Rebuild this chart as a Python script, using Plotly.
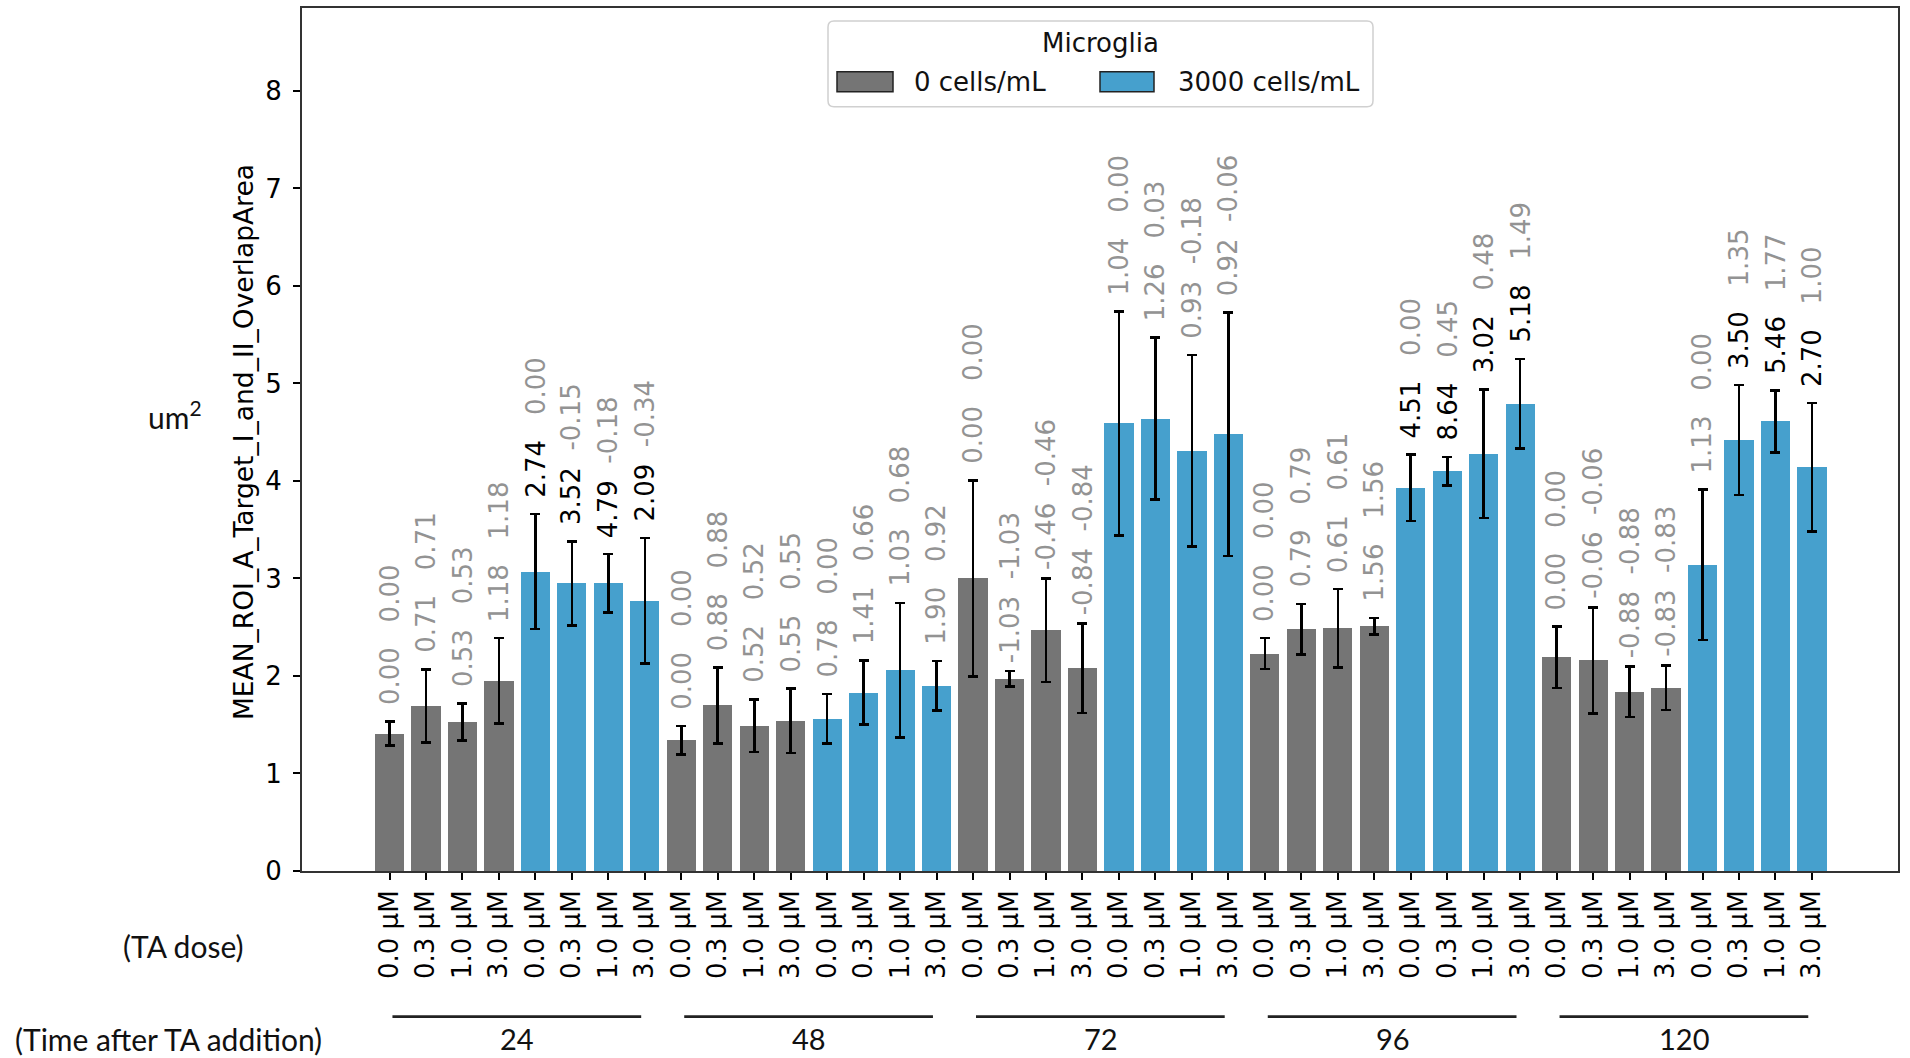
import plotly.graph_objects as go

# ---- data -------------------------------------------------------------
time_points = ["24", "48", "72", "96", "120"]
doses = ["0.0 µM", "0.3 µM", "1.0 µM", "3.0 µM"]
microglia = ["0 cells/mL", "3000 cells/mL"]

# mean overlap area (um^2), one row per time point, one column per dose
mean_0 = [
    [1.41, 1.69, 1.53, 1.95],
    [1.34, 1.70, 1.49, 1.54],
    [3.00, 1.97, 2.47, 2.08],
    [2.23, 2.48, 2.49, 2.51],
    [2.19, 2.16, 1.84, 1.88],
]
err_0 = [
    [0.125, 0.375, 0.19, 0.44],
    [0.145, 0.39, 0.27, 0.33],
    [1.005, 0.08, 0.53, 0.46],
    [0.16, 0.26, 0.40, 0.085],
    [0.315, 0.545, 0.26, 0.23],
]
mean_3000 = [
    [3.07, 2.95, 2.95, 2.77],
    [1.56, 1.83, 2.06, 1.90],
    [4.59, 4.64, 4.31, 4.48],
    [3.93, 4.10, 4.28, 4.79],
    [3.14, 4.42, 4.61, 4.14],
]
err_3000 = [
    [0.59, 0.43, 0.30, 0.645],
    [0.255, 0.33, 0.69, 0.255],
    [1.15, 0.83, 0.98, 1.25],
    [0.34, 0.145, 0.66, 0.46],
    [0.77, 0.565, 0.32, 0.66],
]

# the two statistics printed above every bar
stat_a_0 = [
    [0.00, 0.71, 0.53, 1.18],
    [0.00, 0.88, 0.52, 0.55],
    [0.00, -1.03, -0.46, -0.84],
    [0.00, 0.79, 0.61, 1.56],
    [0.00, -0.06, -0.88, -0.83],
]
stat_b_0 = [
    [0.00, 0.71, 0.53, 1.18],
    [0.00, 0.88, 0.52, 0.55],
    [0.00, -1.03, -0.46, -0.84],
    [0.00, 0.79, 0.61, 1.56],
    [0.00, -0.06, -0.88, -0.83],
]
stat_a_3000 = [
    [2.74, 3.52, 4.79, 2.09],
    [0.78, 1.41, 1.03, 1.90],
    [1.04, 1.26, 0.93, 0.92],
    [4.51, 8.64, 3.02, 5.18],
    [1.13, 3.50, 5.46, 2.70],
]
stat_b_3000 = [
    [0.00, -0.15, -0.18, -0.34],
    [0.00, 0.66, 0.68, 0.92],
    [0.00, 0.03, -0.18, -0.06],
    [0.00, 0.45, 0.48, 1.49],
    [0.00, 1.35, 1.77, 1.00],
]
# first statistic drawn in black where flagged
flag_3000 = [
    [1, 1, 1, 1],
    [0, 0, 0, 0],
    [0, 0, 0, 0],
    [1, 1, 1, 1],
    [0, 1, 1, 1],
]

# ---- styling ----------------------------------------------------------
GRAY = "#757575"
BLUE = "#46a0cd"
LABEL_GRAY = "#939393"
DEJAVU = "DejaVu Sans"
SIDE_FONT = "Lato"
FS = 26

W, H = 1910, 1058
ML, MR, MT, MB = 302, 12, 6, 187
PW, PH = W - ML - MR, H - MT - MB


def px_x(px):
    return (px - ML) / PW


def px_y(py):
    return (H - MB - py) / PH


series = [
    (microglia[0], GRAY, mean_0, err_0, stat_a_0, stat_b_0, None),
    (microglia[1], BLUE, mean_3000, err_3000, stat_a_3000, stat_b_3000, flag_3000),
]

fig = go.Figure()
annotations = []
tickvals, ticktext = [], []

for m, (name, color, means, errs, sa, sb, flags) in enumerate(series):
    xs, ys, es = [], [], []
    for t in range(len(time_points)):
        for d in range(len(doses)):
            x = t * 8 + m * 4 + d
            xs.append(x)
            ys.append(means[t][d])
            es.append(errs[t][d])
            tickvals.append(x)
            ticktext.append(doses[d])
            c1 = "#000000" if (flags and flags[t][d]) else LABEL_GRAY
            a = f"{sa[t][d]:5.2f}".replace(" ", "\u00a0")
            b = f"{sb[t][d]:5.2f}".replace(" ", "\u00a0")
            txt = (f"<span style='color:{c1}'>{a}</span>\u00a0\u00a0"
                   f"<span style='color:{LABEL_GRAY}'>{b}</span>")
            annotations.append(dict(
                x=x, y=means[t][d] + errs[t][d], xref="x", yref="y",
                text=txt, textangle=-90, showarrow=False,
                xanchor="center", yanchor="bottom", yshift=6,
                font=dict(family=DEJAVU, size=FS, color=LABEL_GRAY),
            ))
    fig.add_trace(go.Bar(
        x=xs, y=ys, name=name, width=0.8,
        marker=dict(color=color, line=dict(width=0)),
        error_y=dict(type="data", array=es, visible=True,
                     color="#000000", thickness=2.6, width=5),
        showlegend=False,
    ))

order = sorted(range(len(tickvals)), key=lambda i: tickvals[i])
tickvals = [tickvals[i] for i in order]
ticktext = [ticktext[i] for i in order]

shapes = []
# group brackets under the dose labels
for t, label in enumerate(time_points):
    shapes.append(dict(type="line", xref="x", yref="paper",
                       x0=t * 8 + 0.08, x1=t * 8 + 6.9,
                       y0=px_y(1017), y1=px_y(1017),
                       line=dict(color="#222222", width=2.6)))
    annotations.append(dict(x=t * 8 + 3.5, y=px_y(1039), xref="x", yref="paper",
                            text=label, showarrow=False, xanchor="center",
                            yanchor="middle",
                            font=dict(family=SIDE_FONT, size=29, color="#111111")))

# side captions
annotations += [
    dict(x=px_x(13), y=px_y(1039), xref="paper", yref="paper",
         text="(Time after TA addition)", showarrow=False, xanchor="left",
         yanchor="middle", font=dict(family=SIDE_FONT, size=30, color="#111111")),
    dict(x=px_x(121), y=px_y(946), xref="paper", yref="paper",
         text="(TA dose)", showarrow=False, xanchor="left",
         yanchor="middle", font=dict(family=SIDE_FONT, size=30, color="#111111")),
    dict(x=px_x(146), y=px_y(414), xref="paper", yref="paper",
         text="um<sup>2</sup>", showarrow=False, xanchor="left",
         yanchor="middle", font=dict(family=SIDE_FONT, size=30, color="#111111")),
    dict(x=px_x(244), y=px_y(441), xref="paper", yref="paper",
         text="MEAN_ROI_A_Target_I_and_II_OverlapArea", showarrow=False,
         textangle=-90, xanchor="center", yanchor="middle",
         font=dict(family=DEJAVU, size=26.5, color="#000000")),
]

# legend box
lx0, lx1, ly0, ly1 = px_x(828), px_x(1373), px_y(105), px_y(19)
rx, ry = 6 / PW, 6 / PH
path = (f"M {lx0 + rx},{ly0} L {lx1 - rx},{ly0} Q {lx1},{ly0} {lx1},{ly0 + ry} "
        f"L {lx1},{ly1 - ry} Q {lx1},{ly1} {lx1 - rx},{ly1} "
        f"L {lx0 + rx},{ly1} Q {lx0},{ly1} {lx0},{ly1 - ry} "
        f"L {lx0},{ly0 + ry} Q {lx0},{ly0} {lx0 + rx},{ly0} Z")
shapes.append(dict(type="path", xref="paper", yref="paper", path=path,
                   fillcolor="rgba(255,255,255,0.85)",
                   line=dict(color="#d0d0d0", width=1.5), layer="above"))
for (x0, x1, tx), (name, color, *_rest) in zip(
        [(837, 893, 912), (1100, 1154, 1176)], series):
    shapes.append(dict(type="rect", xref="paper", yref="paper",
                       x0=px_x(x0), x1=px_x(x1), y0=px_y(90), y1=px_y(70),
                       fillcolor=color, line=dict(color="#222222", width=1.5),
                       layer="above"))
    annotations.append(dict(x=px_x(tx), y=px_y(80), xref="paper", yref="paper",
                            text=name, showarrow=False, xanchor="left",
                            yanchor="middle",
                            font=dict(family=DEJAVU, size=FS, color="#111111")))
annotations.append(dict(x=px_x(1100), y=px_y(41), xref="paper", yref="paper",
                        text="Microglia", showarrow=False, xanchor="center",
                        yanchor="middle",
                        font=dict(family=DEJAVU, size=FS, color="#111111")))

fig.update_layout(
    width=W, height=H,
    margin=dict(l=ML, r=MR, t=MT, b=MB, pad=0),
    plot_bgcolor="white", paper_bgcolor="white",
    font=dict(family=DEJAVU, size=FS, color="#000000"),
    bargap=0, barmode="overlay",
    annotations=annotations, shapes=shapes,
    xaxis=dict(range=[-2.4, 41.36], tickmode="array", tickvals=tickvals,
               ticktext=ticktext, tickangle=-90, ticks="outside", ticklen=7,
               tickwidth=1.5, tickcolor="#000000", showgrid=False,
               zeroline=False, showline=True, mirror=True,
               linecolor="#333333", linewidth=2,
               tickfont=dict(family=DEJAVU, size=FS, color="#000000")),
    yaxis=dict(range=[0, 8.85], tickvals=list(range(9)), ticks="outside",
               ticklen=7, tickwidth=1.5, tickcolor="#000000", showgrid=False,
               zeroline=False, showline=True, mirror=True,
               linecolor="#333333", linewidth=2, ticklabelstandoff=6,
               tickfont=dict(family=DEJAVU, size=FS, color="#000000")),
)

fig.write_html("out.html")
